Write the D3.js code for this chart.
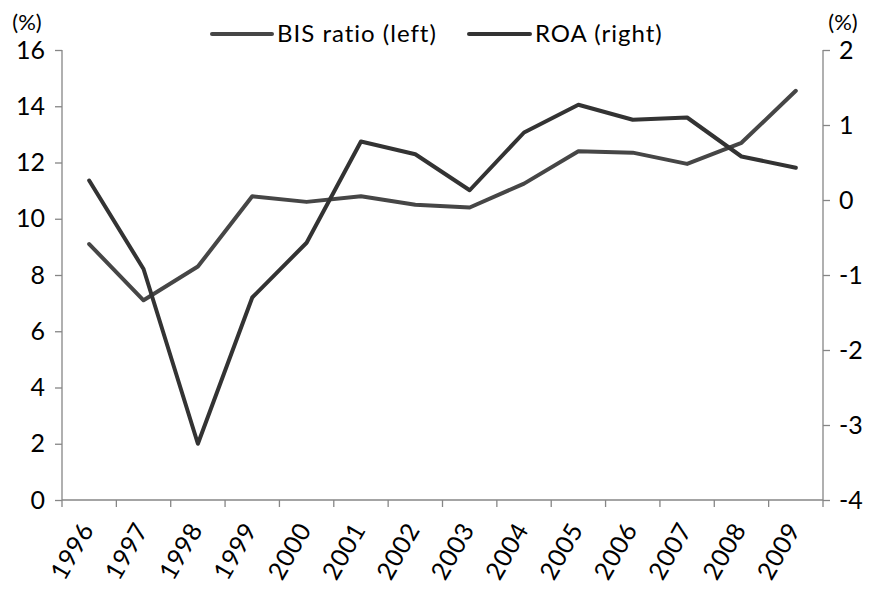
<!DOCTYPE html>
<html>
<head>
<meta charset="utf-8">
<script src="https://cdn.jsdelivr.net/npm/d3@7"></script>
<style>
  html, body { margin: 0; padding: 0; background: #fff; }
  svg { display: block; }
  text { font-family: Lato, "Open Sans", sans-serif; fill: #000; }
</style>
</head>
<body>
<svg id="chart" width="870" height="591"></svg>
<script>
const years = ["1996","1997","1998","1999","2000","2001","2002","2003","2004","2005","2006","2007","2008","2009"];
const bisRatio = [9.1, 7.1, 8.3, 10.8, 10.6, 10.8, 10.5, 10.4, 11.25, 12.4, 12.35, 11.95, 12.7, 14.55];
const roa = [0.26, -0.92, -3.25, -1.3, -0.57, 0.78, 0.61, 0.13, 0.9, 1.27, 1.07, 1.1, 0.58, 0.43];
const leftTicks = [0, 2, 4, 6, 8, 10, 12, 14, 16];
const rightTicks = [-4, -3, -2, -1, 0, 1, 2];
const seriesNames = ["BIS ratio (left)", "ROA (right)"];

const svg = d3.select("#chart");
const m = { left: 62, right: 823, top: 50, bottom: 500 };
const axisColor = "#868686";

const x = d3.scaleBand().domain(years).range([m.left, m.right]).paddingInner(0).paddingOuter(0);
const yL = d3.scaleLinear().domain([0, 16]).range([m.bottom, m.top]);
const yR = d3.scaleLinear().domain([-4, 2]).range([m.bottom, m.top]);

const gL = svg.append("g").attr("transform", `translate(${m.left},0)`)
  .call(d3.axisLeft(yL).tickValues(leftTicks).tickSize(7).tickPadding(10).tickFormat(d3.format("d")));
const gR = svg.append("g").attr("transform", `translate(${m.right},0)`)
  .call(d3.axisRight(yR).tickValues(rightTicks).tickSize(7).tickPadding(9).tickFormat(d => d < 0 ? "-" + Math.abs(d) : d));

const gB = svg.append("g").attr("transform", `translate(0,${m.bottom})`);
gB.append("line").attr("x1", m.left).attr("x2", m.right).attr("y1", 0).attr("y2", 0)
  .attr("stroke", axisColor).attr("stroke-width", 1.3);
const boundaries = years.map(y => x(y)).concat([x(years[years.length - 1]) + x.bandwidth()]);
gB.selectAll("line.tk").data(boundaries).enter().append("line").attr("class", "tk")
  .attr("x1", d => d).attr("x2", d => d).attr("y1", 0).attr("y2", 7)
  .attr("stroke", axisColor).attr("stroke-width", 1.3);
gB.selectAll("text.yr").data(years).enter().append("text").attr("class", "yr")
  .attr("transform", d => `translate(${x(d) + x.bandwidth() / 2 - 2},${25}) rotate(-60)`)
  .attr("text-anchor", "end").attr("dy", "0.35em")
  .style("font-size", "25px").style("letter-spacing", "0.6px")
  .text(d => d);

[gL, gR].forEach(g => {
  g.select(".domain").attr("stroke", axisColor).attr("stroke-width", 1.3);
  g.selectAll(".tick line").attr("stroke", axisColor).attr("stroke-width", 1.3);
  g.selectAll(".tick text").style("font-size", "25px").attr("fill", "#000")
    .style("font-family", "Lato, 'Open Sans', sans-serif");
});
gL.select(".domain").attr("d", `M0,${m.top}V${m.bottom}`);
gR.select(".domain").attr("d", `M0,${m.top}V${m.bottom}`);

svg.append("text").attr("x", 27).attr("y", 22).attr("dy", "0.35em").attr("text-anchor", "middle")
  .style("font-size", "22px").text("(%)");
svg.append("text").attr("x", 843).attr("y", 22).attr("dy", "0.35em").attr("text-anchor", "middle")
  .style("font-size", "22px").text("(%)");

const cx = d => x(d) + x.bandwidth() / 2;
const lineL = d3.line().x((d, i) => cx(years[i])).y(d => yL(d));
const lineR = d3.line().x((d, i) => cx(years[i])).y(d => yR(d));
const colors = ["#464646", "#333333"];

svg.append("path").datum(bisRatio).attr("d", lineL)
  .attr("fill", "none").attr("stroke", colors[0]).attr("stroke-width", 4)
  .attr("stroke-linejoin", "round").attr("stroke-linecap", "round");
svg.append("path").datum(roa).attr("d", lineR)
  .attr("fill", "none").attr("stroke", colors[1]).attr("stroke-width", 4)
  .attr("stroke-linejoin", "round").attr("stroke-linecap", "round");

const legend = [
  { name: seriesNames[0], x1: 212, x2: 272, tx: 277, color: colors[0] },
  { name: seriesNames[1], x1: 469, x2: 530, tx: 535, color: colors[1] }
];
legend.forEach(l => {
  svg.append("line").attr("x1", l.x1).attr("x2", l.x2).attr("y1", 34).attr("y2", 34)
    .attr("stroke", l.color).attr("stroke-width", 4).attr("stroke-linecap", "round");
  svg.append("text").attr("x", l.tx).attr("y", 34).attr("dy", "0.35em")
    .style("font-size", "24px").style("letter-spacing", "1px").text(l.name);
});
</script>
</body>
</html>
